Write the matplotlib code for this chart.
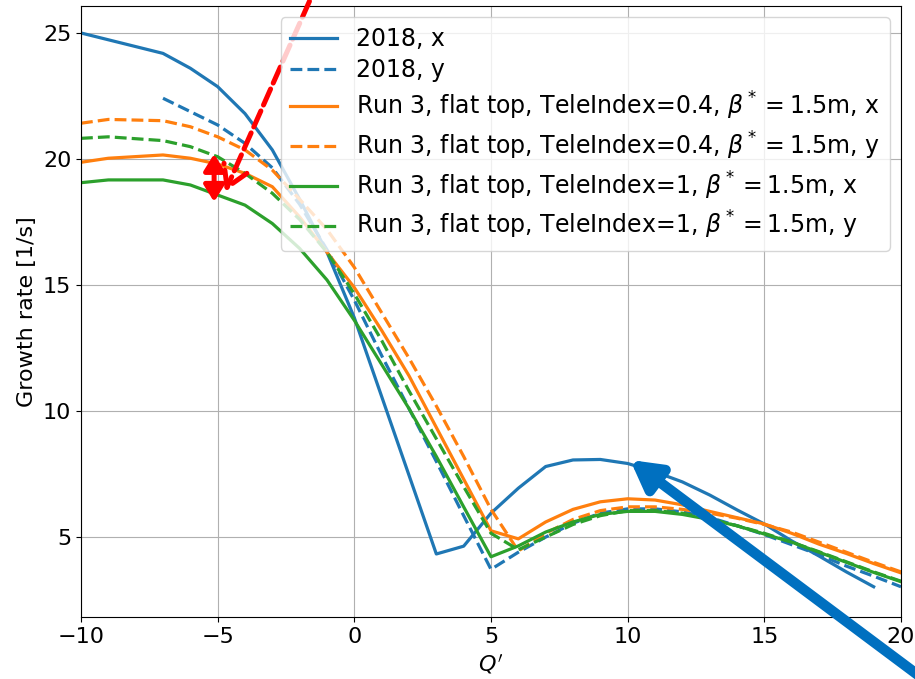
import matplotlib
matplotlib.use("Agg")
import matplotlib.pyplot as plt

# ---- data ----
q_2018x = [-10, -7, -6, -5, -4, -3, -2, -1, 0, 3, 4, 5, 6, 7, 8, 9, 10, 11, 12, 13, 14, 15, 16, 17, 18, 19]
g_2018x = [25.0, 24.19, 23.6, 22.87, 21.8, 20.36, 18.4, 16.3, 13.7, 4.33, 4.64, 5.95, 6.94, 7.8, 8.06, 8.08,
           7.92, 7.59, 7.19, 6.67, 6.08, 5.52, 4.85, 4.25, 3.62, 3.03]

q_2018y = [-7, -6, -5, -4, -3, -2, -1, 0, 1, 2, 3, 4, 5, 6, 7, 8, 9, 10, 11, 12, 13, 14, 15, 16, 17, 18, 19, 20]
g_2018y = [22.41, 21.88, 21.35, 20.62, 19.65, 18.2, 16.4, 14.4, 12.2, 10.1, 8.0, 5.85, 3.72, 4.4, 5.0, 5.55,
           5.95, 6.12, 6.12, 6.0, 5.78, 5.45, 5.1, 4.7, 4.3, 3.85, 3.45, 3.03]

q_run3 = [-10, -9, -7, -6, -5, -4, -3, -2, -1, 0, 1, 2, 3, 4, 5, 6, 7, 8, 9, 10, 11, 12, 13, 14, 15, 16, 17, 18, 19, 20]
g_t04x = [19.87, 20.03, 20.16, 20.03, 19.8, 19.43, 18.9, 17.7, 16.3, 14.9, 13.2, 11.4, 9.35, 7.3, 5.25, 4.93,
          5.6, 6.1, 6.4, 6.52, 6.47, 6.28, 6.02, 5.77, 5.52, 5.15, 4.72, 4.35, 3.95, 3.58]
g_t04y = [21.42, 21.57, 21.52, 21.28, 20.88, 20.36, 19.56, 18.4, 17.2, 15.7, 13.9, 12.1, 10.2, 8.2, 6.1, 4.45,
          5.15, 5.7, 6.05, 6.2, 6.2, 6.1, 5.95, 5.75, 5.5, 5.2, 4.8, 4.4, 4.0, 3.62]
g_t1x = [19.06, 19.17, 19.17, 18.97, 18.57, 18.17, 17.44, 16.45, 15.2, 13.6, 11.85, 10.1, 8.2, 6.2, 4.22, 4.65,
         5.2, 5.6, 5.9, 6.02, 6.02, 5.9, 5.7, 5.45, 5.12, 4.8, 4.4, 4.0, 3.6, 3.23]
g_t1y = [20.82, 20.88, 20.73, 20.49, 20.09, 19.43, 18.64, 17.6, 16.3, 14.65, 12.8, 10.8, 8.9, 7.0, 5.15, 4.5,
         5.0, 5.5, 5.85, 6.05, 6.05, 5.95, 5.72, 5.45, 5.15, 4.8, 4.42, 4.02, 3.62, 3.25]

labels = [
    "2018, x",
    "2018, y",
    r"Run 3, flat top, TeleIndex=0.4, $\beta^*=1.5$m, x",
    r"Run 3, flat top, TeleIndex=0.4, $\beta^*=1.5$m, y",
    r"Run 3, flat top, TeleIndex=1, $\beta^*=1.5$m, x",
    r"Run 3, flat top, TeleIndex=1, $\beta^*=1.5$m, y",
]

plt.rcParams['font.family'] = ['DejaVu Sans']
plt.rcParams['font.size'] = 16

fig = plt.figure(figsize=(9.15, 6.79), dpi=100)
ax = fig.add_axes([81 / 915, 1 - 617 / 679, 820 / 915, 611 / 679])

lw = 2.3
ax.plot(q_2018x, g_2018x, color='C0', ls='-', lw=lw, label=labels[0])
ax.plot(q_2018y, g_2018y, color='C0', ls='--', lw=lw, label=labels[1])
ax.plot(q_run3, g_t04x, color='C1', ls='-', lw=lw, label=labels[2])
ax.plot(q_run3, g_t04y, color='C1', ls='--', lw=lw, label=labels[3])
ax.plot(q_run3, g_t1x, color='C2', ls='-', lw=lw, label=labels[4])
ax.plot(q_run3, g_t1y, color='C2', ls='--', lw=lw, label=labels[5])

ax.set_xlim(-10, 20)
ax.set_ylim(1.83, 26.07)
ax.set_xticks([-10, -5, 0, 5, 10, 15, 20])
ax.set_yticks([5, 10, 15, 20, 25])
ax.grid(True, color='#b0b0b0', lw=0.8)
ax.set_xlabel("$Q'$")
ax.set_ylabel("Growth rate [1/s]")
ax.legend(loc='upper right', fontsize=17, labelspacing=0.32, borderaxespad=0.48)

# annotations
ax.annotate('', xy=(-4.73, 18.7), xytext=(-0.93, 28.0),
            arrowprops=dict(arrowstyle='->, head_length=0.5, head_width=0.3', linestyle=(0, (3.5, 1.3)),
                            color='red', lw=3.6, mutation_scale=30, shrinkA=0, shrinkB=0),
            annotation_clip=False)
ax.annotate('', xy=(-5.13, 20.2), xytext=(-5.13, 18.3),
            arrowprops=dict(arrowstyle='<|-|>, head_length=0.45, head_width=0.28', color='red', lw=3.6,
                            mutation_scale=22, shrinkA=0, shrinkB=0),
            annotation_clip=False)
ax.annotate('', xy=(10.09, 8.06), xytext=(22.2, -1.75),
            arrowprops=dict(arrowstyle='-|>, head_length=0.45, head_width=0.25', color='#0070C0', lw=7.5,
                            mutation_scale=38, shrinkA=0, shrinkB=0),
            annotation_clip=False)

fig.savefig('out.png', dpi=100)
